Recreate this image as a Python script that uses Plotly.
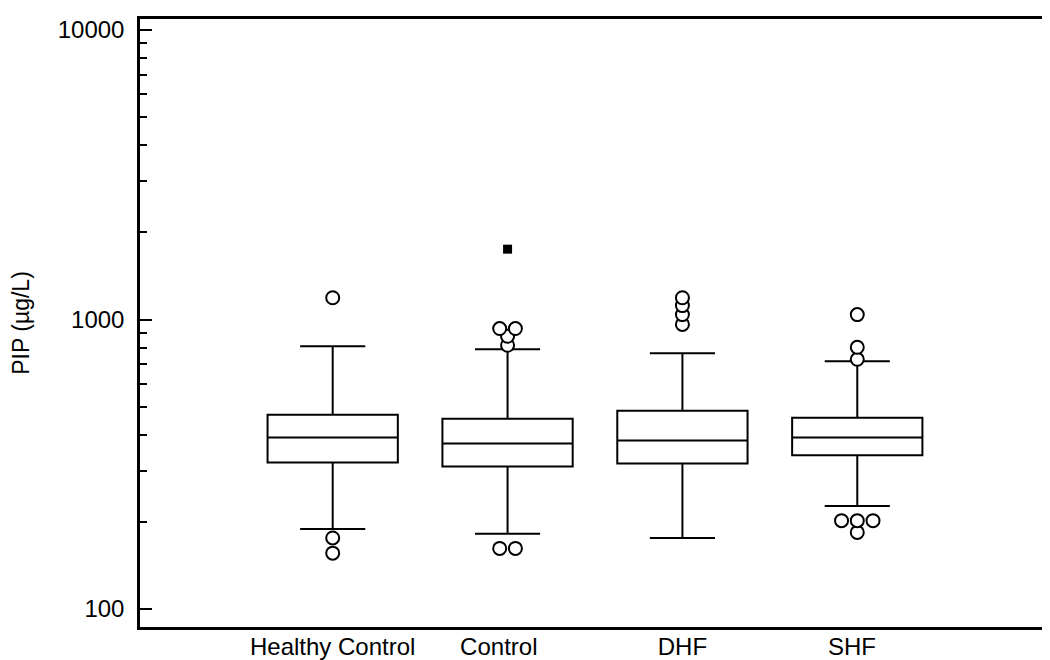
import numpy as np
import plotly.graph_objects as go

# box statistics (ug/L)
groups = ["Healthy Control", "Control", "DHF", "SHF"]
q1 = [321, 311, 318, 340]
median = [391, 373, 382, 391]
q3 = [469, 454, 484, 458]
lower_whisker = [189, 182, 176, 227]
upper_whisker = [808, 789, 765, 718]

# outside values (open circles) and far-out value (filled square)
outliers = [
    [1189, 176, 156],
    [931, 931, 875, 815, 162, 162],
    [1189, 1117, 1040, 962],
    [1040, 802, 729, 202, 202, 202, 184],
]
far_out = [[], [1750], [], []]

pos = np.arange(len(groups))
label_pos = pos + np.array([0.0, -0.05, 0.0, -0.03])  # category labels sit a bit off-centre
FONT = "Liberation Sans, Arial, sans-serif"

fig = go.Figure()

for i, g in enumerate(groups):
    fig.add_trace(go.Box(
        x=[pos[i]],
        q1=[q1[i]], median=[median[i]], q3=[q3[i]],
        lowerfence=[lower_whisker[i]], upperfence=[upper_whisker[i]],
        width=0.745, whiskerwidth=0.5,
        fillcolor="white", line=dict(color="black", width=2),
        boxpoints=False, showlegend=False, name=g,
    ))

# spread identical outlier values side by side
step = 0.09
ox, oy = [], []
for i, vals in enumerate(outliers):
    for v in sorted(set(vals)):
        n = vals.count(v)
        for k in range(n):
            ox.append(pos[i] + (k - (n - 1) / 2) * step)
            oy.append(v)

fig.add_trace(go.Scatter(
    x=ox, y=oy, mode="markers", showlegend=False,
    marker=dict(symbol="circle", size=13, color="white",
                line=dict(color="black", width=2)),
))

fx, fy = [], []
for i, vals in enumerate(far_out):
    for v in vals:
        fx.append(pos[i])
        fy.append(v)
fig.add_trace(go.Scatter(
    x=fx, y=fy, mode="markers", showlegend=False,
    marker=dict(symbol="square", size=9, color="black"),
))

minor_vals = [k * 10 ** e for e in (2, 3) for k in range(2, 10)]

fig.update_layout(
    width=1050, height=660,
    margin=dict(l=129, r=8, t=10, b=37),
    paper_bgcolor="white", plot_bgcolor="white",
    font=dict(family=FONT, color="black"),
)
fig.update_xaxes(
    range=[-1.102, 4.085],
    tickmode="array", tickvals=label_pos, ticktext=groups,
    tickfont=dict(size=24), ticks="", ticklabelstandoff=-4,
    showline=True, linecolor="black", linewidth=2.5, mirror=True,
    showgrid=False, zeroline=False,
)
fig.update_yaxes(
    type="log", range=[1.938, 4.038],
    tickmode="array", tickvals=[100, 1000, 10000],
    ticktext=["100", "1000", "10000"],
    tickfont=dict(size=24), ticks="inside", ticklen=12, tickwidth=2,
    tickcolor="black", ticklabelstandoff=8,
    minor=dict(tickvals=minor_vals, ticks="inside", ticklen=7,
               tickwidth=2, tickcolor="black", showgrid=False),
    showline=True, linecolor="black", linewidth=2.5, mirror=True,
    showgrid=False, zeroline=False,
    title=dict(text="PIP (µg/L)", font=dict(size=23), standoff=26),
)

fig.write_html("out.html")
